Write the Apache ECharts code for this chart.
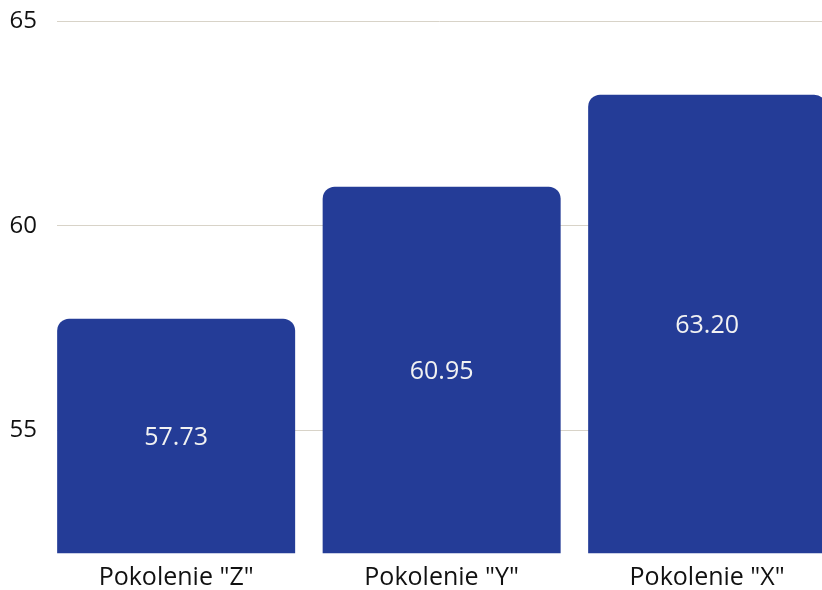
<!DOCTYPE html>
<html>
<head>
<meta charset="utf-8">
<script src="https://cdn.jsdelivr.net/npm/echarts@6/dist/echarts.min.js"></script>
<style>
  html, body { margin: 0; padding: 0; background: #ffffff; }
  #chart { width: 822px; height: 590px; }
</style>
</head>
<body>
<div id="chart"></div>
<script>
// Average age per generation
const categories = ['Pokolenie "Z"', 'Pokolenie "Y"', 'Pokolenie "X"'];
const values = [57.73, 60.95, 63.20];
const yTicks = [55, 60, 65];
const yMin = 52;
const yMax = 65;

const FONT = '"Open Sans", "DejaVu Sans", sans-serif';
const TOP = 21;
const HEIGHT = 532.3;

const chart = echarts.init(document.getElementById('chart'), null, { renderer: 'canvas' });

chart.setOption({
  animation: false,
  backgroundColor: '#ffffff',
  grid: [
    // bars (the last band runs past the right edge of the canvas)
    { left: 43.4, width: 796.5, top: TOP, height: HEIGHT, outerBoundsMode: 'none' },
    // value axis with gridlines
    { left: 57, right: 0, top: TOP, height: HEIGHT, outerBoundsMode: 'none' }
  ],
  xAxis: [
    {
      type: 'category',
      gridIndex: 0,
      data: categories,
      axisLine: { show: false },
      axisTick: { show: false },
      axisLabel: {
        margin: 12,
        fontFamily: FONT,
        fontSize: 25,
        color: '#111111'
      }
    },
    {
      type: 'value',
      gridIndex: 1,
      show: false
    }
  ],
  yAxis: [
    {
      type: 'value',
      gridIndex: 0,
      min: yMin,
      max: yMax,
      show: false
    },
    {
      type: 'value',
      gridIndex: 1,
      min: yMin,
      max: yMax,
      axisLine: { show: false },
      axisTick: { show: false, customValues: yTicks },
      axisLabel: {
        customValues: yTicks,
        margin: 20,
        fontFamily: FONT,
        fontSize: 24,
        color: '#111111',
        padding: [2, 0, 0, 0]
      },
      splitLine: {
        show: true,
        lineStyle: { color: '#d8d3c8', width: 1 }
      }
    }
  ],
  series: [
    {
      type: 'bar',
      xAxisIndex: 0,
      yAxisIndex: 0,
      data: values,
      barWidth: 238,
      itemStyle: {
        color: '#243c97',
        borderRadius: [12, 12, 0, 0]
      },
      label: {
        show: true,
        position: 'inside',
        offset: [0, 2],
        fontFamily: FONT,
        fontSize: 25,
        color: '#f2f2f2',
        formatter: (p) => p.value.toFixed(2)
      }
    }
  ]
});
</script>
</body>
</html>
